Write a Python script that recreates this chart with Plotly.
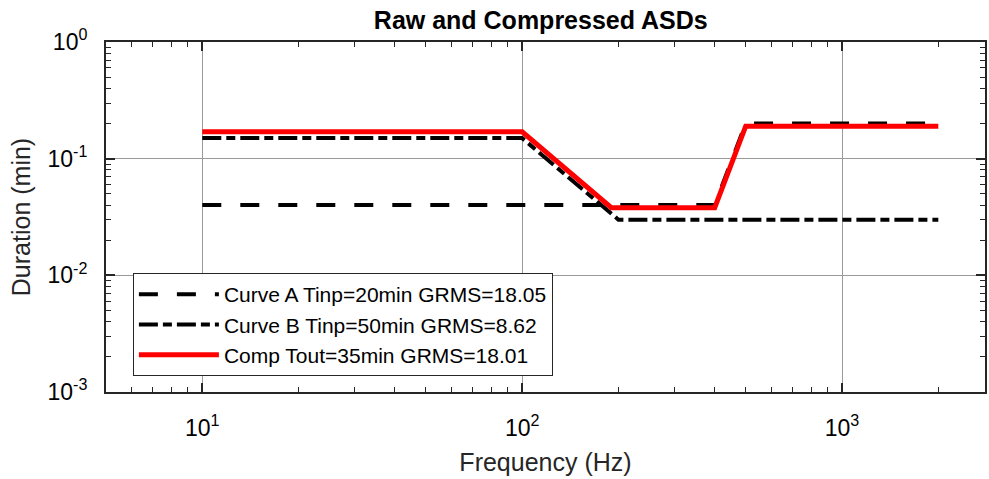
import plotly.graph_objects as go
import numpy as np

# Data
freq_a = [10, 400, 500, 2000]
dur_a = [0.04, 0.04, 0.2, 0.2]

freq_b = [10, 100, 200, 2000]
dur_b = [0.15, 0.15, 0.03, 0.03]

freq_c = [10, 100, 190, 400, 500, 2000]
dur_c = [0.17, 0.17, 0.038, 0.038, 0.19, 0.19]

names = ["Curve A Tinp=20min GRMS=18.05",
         "Curve B Tinp=50min GRMS=8.62",
         "Comp Tout=35min GRMS=18.01"]

x_major = [10, 100, 1000]
x_major_text = ["10<sup>1</sup>", "10<sup>2</sup>", "10<sup>3</sup>"]
y_major = [0.001, 0.01, 0.1, 1]
y_major_text = ["10<sup>-3</sup>", "10<sup>-2</sup>", "10<sup>-1</sup>", "10<sup>0</sup>"]

x_minor = [m * 10 ** e for e in range(0, 4) for m in range(2, 10)]
y_minor = [m * 10.0 ** e for e in range(-3, 0) for m in range(2, 10)]

FONT = "Liberation Sans, Arial, sans-serif"
AX = "#262626"

fig = go.Figure()
fig.add_trace(go.Scatter(x=freq_a, y=dur_a, mode="lines", name=names[0],
                         line=dict(color="black", width=4, dash="19px,19px")))
fig.add_trace(go.Scatter(x=freq_b, y=dur_b, mode="lines", name=names[1],
                         line=dict(color="black", width=4, dash="19px,5px,9px,5px")))
fig.add_trace(go.Scatter(x=freq_c, y=dur_c, mode="lines", name=names[2],
                         line=dict(color="#ff0000", width=5)))

axis_common = dict(
    type="log", showline=True, linecolor=AX, linewidth=2, mirror="ticks",
    ticks="inside", ticklen=9, tickwidth=1.5, tickcolor=AX,
    showgrid=True, gridcolor="#9a9a9a", gridwidth=1, zeroline=False,
    tickfont=dict(family=FONT, size=23, color="black"),
)

fig.update_xaxes(**axis_common, range=[np.log10(5), 3.447],
                 tickmode="array", tickvals=x_major, ticktext=x_major_text,
                 minor=dict(tickmode="array", tickvals=x_minor, ticks="inside",
                            ticklen=5, tickwidth=1.2, tickcolor=AX, showgrid=False),
                 ticklabelstandoff=14,
                 title=dict(text="Frequency (Hz)", standoff=14,
                            font=dict(family=FONT, size=25, color=AX)))
fig.update_yaxes(**axis_common, range=[-3, 0],
                 tickmode="array", tickvals=y_major, ticktext=y_major_text,
                 minor=dict(tickmode="array", tickvals=y_minor, ticks="inside",
                            ticklen=5, tickwidth=1.2, tickcolor=AX, showgrid=False),
                 ticklabelstandoff=12,
                 title=dict(text="Duration (min)", standoff=10,
                            font=dict(family=FONT, size=25, color=AX)))

fig.update_layout(
    width=989, height=479,
    margin=dict(l=106, r=2, t=42, b=87),
    paper_bgcolor="white", plot_bgcolor="white",
    title=dict(text="<b>Raw and Compressed ASDs</b>", x=0.5468, xanchor="center",
               y=0.958, yanchor="middle",
               font=dict(family=FONT, size=25, color="black")),
    legend=dict(x=0.0306, y=0.34, xanchor="left", yanchor="top",
                bgcolor="white", bordercolor=AX, borderwidth=1,
                font=dict(family=FONT, size=21, color="black"),
                itemwidth=80, tracegroupgap=0),
    showlegend=True,
)

fig.write_html("out.html")
